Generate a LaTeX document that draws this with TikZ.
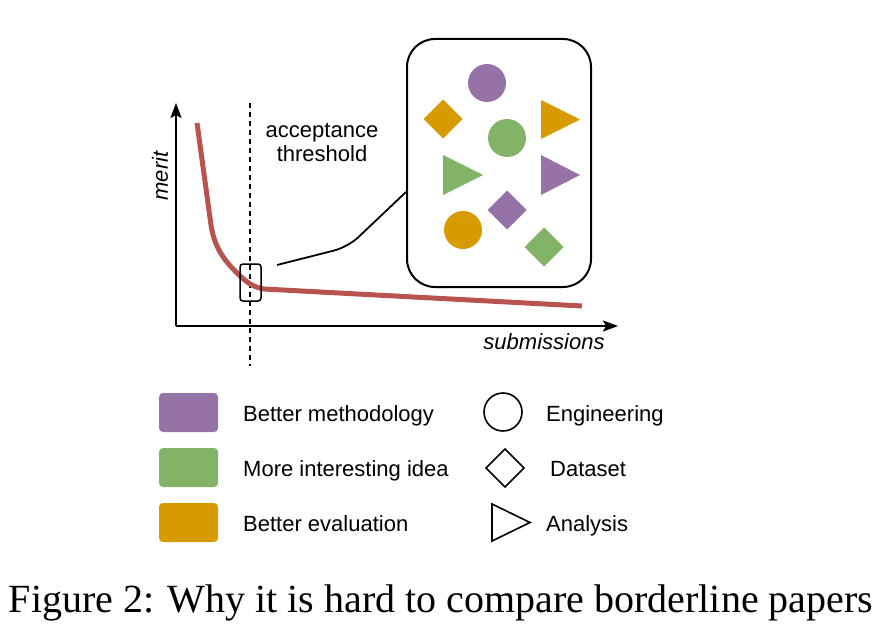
\documentclass[tikz,border=0pt]{standalone}
\usepackage{fontspec}
\setmainfont{Liberation Serif}
\setsansfont{Liberation Sans}
\usetikzlibrary{arrows.meta,shapes.geometric}
\definecolor{cpurple}{HTML}{9673A6}
\definecolor{cgreen}{HTML}{82B366}
\definecolor{corange}{HTML}{D79B00}
\definecolor{cred}{HTML}{B85450}
\begin{document}
\begin{tikzpicture}[x=1pt,y=-1pt,
  every node/.style={font=\sffamily\fontsize{22}{26}\selectfont},
  axis/.style={line width=2pt,-{Stealth[length=15pt,width=11pt,inset=3pt]}},
  swatch/.style={rounded corners=4pt,minimum width=59pt,minimum height=39pt,inner sep=0pt,draw=none},
  lbl/.style={anchor=base west,inner sep=0pt},
  dot/.style={circle,inner sep=0pt,minimum size=38pt},
  outline/.style={draw=black,line width=1.6pt,fill=white},
]
\useasboundingbox (0,0) rectangle (886,642);

% axes
\coordinate (origin) at (176,326);
\coordinate (ytip) at (176,103);
\coordinate (xtip) at (618,326);
\draw[axis] (origin) -- (ytip);
\draw[axis] (origin) -- (xtip);
\node[rotate=90,font=\sffamily\itshape\fontsize{22}{26}\selectfont] (merit) at (160,176) {merit};
\node[anchor=base,inner sep=0pt,font=\sffamily\itshape\fontsize{22}{26}\selectfont] (subm) at (544,349) {submissions};

% threshold
\coordinate (thtop) at (250,103);
\coordinate (thbot) at (250,366);
\draw[line width=1.5pt,dash pattern=on 5pt off 4pt] (thtop) -- (thbot);
\node[anchor=base,inner sep=0pt] (acc) at (322,137) {acceptance};
\node[anchor=base,inner sep=0pt] (thr) at (322,161) {threshold};

% curve
\draw[cred,line width=5pt,line join=round,line cap=butt]
  (197,123) -- (211,225) .. controls (214,245) and (222,258) .. (236,272)
  .. controls (245,281) and (252,287) .. (264,289) -- (582,306);

% selection box
\node[draw=black,line width=1.5pt,rounded corners=3pt,minimum width=21pt,minimum height=37pt,inner sep=0pt] (sel) at (250.5,282.5) {};

% zoom box
\node[draw=black,line width=2pt,rounded corners=28pt,minimum width=184pt,minimum height=248pt,inner sep=0pt] (zoom) at (499,163) {};
\coordinate (cstart) at (277,265);
\coordinate (cend) at (zoom.west |- 0,192);
\draw[line width=1.8pt,rounded corners=14pt] (cstart) -- (348,247) -- (cend);

% shapes in zoom box
\node[dot,fill=cpurple] (c1) at (487,83) {};
\node[dot,fill=cgreen] (c2) at (507,138) {};
\node[dot,fill=corange] (c3) at (463,230) {};
\fill[corange] (443,99.5) -- (462.5,119) -- (443,138.5) -- (423.5,119) -- cycle;
\fill[cpurple] (507,190.5) -- (526.5,210) -- (507,229.5) -- (487.5,210) -- cycle;
\fill[cgreen] (544,227.5) -- (563.5,247) -- (544,266.5) -- (524.5,247) -- cycle;
\fill[corange] (541,100) -- (580,119.5) -- (541,139) -- cycle;
\fill[cgreen] (443,155) -- (483,175) -- (443,195) -- cycle;
\fill[cpurple] (541,155) -- (580,175) -- (541,195) -- cycle;

% legend colours
\node[swatch,fill=cpurple] (sw1) at (188.5,412.5) {};
\node[swatch,fill=cgreen] (sw2) at (188.5,467.5) {};
\node[swatch,fill=corange] (sw3) at (188.5,522.5) {};
\node[lbl] (l1) at (243,421) {Better methodology};
\node[lbl] (l2) at (243,476) {More interesting idea};
\node[lbl] (l3) at (243,531) {Better evaluation};

% legend shapes
\draw[line width=1.6pt] (503,412) circle (19pt);
\draw[line width=1.6pt] (505,449) -- (524,468) -- (505,487) -- (486,468) -- cycle;
\draw[line width=1.6pt,line join=miter] (492,504) -- (530,522.5) -- (492,541) -- cycle;
\node[lbl] (l4) at (546,421) {Engineering};
\node[lbl] (l5) at (550,476) {Dataset};
\node[lbl] (l6) at (546,531) {Analysis};

% caption
\node[anchor=base,inner sep=0pt,font=\rmfamily\fontsize{40}{44}\selectfont] (cap) at (441,612) {Figure 2: Why it is hard to compare borderline papers};
\end{tikzpicture}
\end{document}
